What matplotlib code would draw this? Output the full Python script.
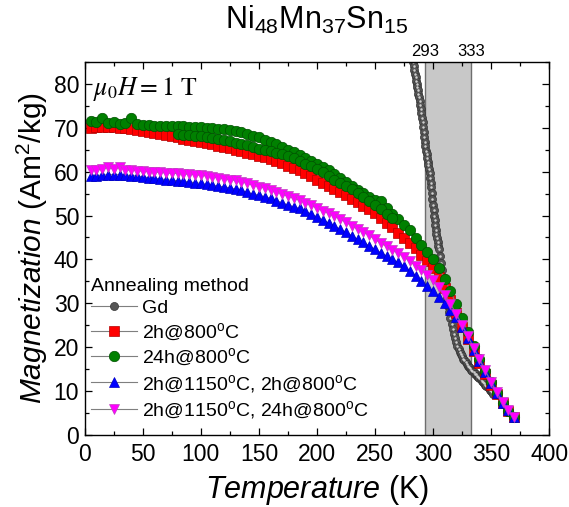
import matplotlib
matplotlib.use("Agg")
import matplotlib.pyplot as plt
from matplotlib.ticker import MultipleLocator

plt.rcParams["font.family"] = ["Liberation Sans", "DejaVu Sans"]
plt.rcParams["mathtext.fontset"] = "custom"
plt.rcParams["mathtext.rm"] = "Liberation Sans"
plt.rcParams["mathtext.it"] = "Liberation Sans:italic"
plt.rcParams["mathtext.bf"] = "Liberation Sans:bold"

# temperature grid of the Heusler samples (K)
T = [5, 10, 15, 20, 25, 30, 35, 40, 45, 50, 55, 60, 65, 70, 75, 80, 85, 90, 95, 100,
     105, 110, 115, 120, 125, 130, 135, 140, 145, 150, 155, 160, 165, 170, 175, 180,
     185, 190, 195, 200, 205, 210, 215, 220, 225, 230, 235, 240, 245, 250, 255, 260,
     265, 270, 275, 280, 285, 290, 295, 300, 305, 310, 315, 320, 325, 330, 335, 340,
     345, 350, 355, 360, 365, 370]

# 2h@800C
m_red = [70.0, 70.1, 70.2, 70.2, 70.1, 70.0, 69.9, 69.7, 69.5, 69.3, 69.1, 68.8, 68.6,
         68.3, 68.0, 67.8, 67.5, 67.3, 67.0, 66.8, 66.5, 66.2, 65.9, 65.6, 65.3, 65.0,
         64.6, 64.3, 63.9, 63.6, 63.3, 62.9, 62.4, 61.9, 61.3, 60.8, 60.3, 59.6, 58.9,
         58.2, 57.5, 56.8, 56.1, 55.4, 54.6, 53.8, 53.0, 52.2, 51.4, 50.5, 49.5, 48.4,
         47.3, 46.1, 44.9, 43.7, 42.5, 41.1, 39.6, 38.0, 35.9, 33.5, 30.7, 27.7, 24.7,
         21.8, 19.1, 16.5, 14.0, 11.5, 9.3, 7.3, 5.5, 4.0]

# 24h@800C (first pass)
m_green = [71.5, 71.2, 72.3, 71.0, 71.2, 70.9, 71.0, 72.2, 70.8, 70.7, 70.6, 70.5, 70.5,
           70.4, 70.4, 70.3, 70.3, 70.2, 70.2, 70.1, 70.0, 69.9, 69.8, 69.6, 69.4, 69.2,
           69.0, 68.6, 68.2, 67.8, 67.3, 66.8, 66.2, 65.6, 65.0, 64.4, 63.7, 63.0, 62.4,
           61.8, 61.1, 60.3, 59.4, 58.6, 57.7, 56.8, 55.9, 55.1, 54.3, 53.6, 53.3, 51.8,
           50.4, 49.2, 47.9, 46.6, 44.8, 43.2, 41.8, 40.2, 38.0, 35.6, 32.8, 29.8, 26.6,
           23.4, 20.3, 17.4, 14.6, 12.0, 9.6, 7.4, 5.5, 4.1]

# 24h@800C (second pass, lower branch)
T_green2 = [80, 85, 90, 95, 100, 105, 110, 115, 120, 125, 130, 135, 140, 145, 150, 155,
            160, 165, 170, 175, 180, 185, 190, 195, 200, 205, 210, 215, 220, 225, 230,
            235, 240, 245, 250, 255, 260, 265]
m_green2 = [68.6, 68.4, 68.3, 68.2, 68.0, 67.8, 67.6, 67.4, 67.2, 66.9, 66.6, 66.3, 66.0,
            65.6, 65.2, 64.9, 64.6, 64.3, 64.0, 63.5, 63.0, 62.4, 61.8, 61.2, 60.6, 59.8,
            59.0, 58.2, 57.5, 56.8, 56.1, 55.2, 54.2, 53.3, 52.5, 51.5, 50.4, 49.4]

# 2h@1150C, 2h@800C
m_blue = [59.0, 59.1, 59.2, 59.3, 59.3, 59.3, 59.2, 59.1, 59.0, 58.8, 58.6, 58.5, 58.3,
          58.2, 58.0, 57.9, 57.8, 57.6, 57.5, 57.3, 57.1, 56.9, 56.7, 56.5, 56.3, 56.0,
          55.7, 55.3, 54.9, 54.6, 54.3, 53.9, 53.4, 52.9, 52.4, 52.0, 51.6, 51.0, 50.3,
          49.7, 49.0, 48.3, 47.6, 46.9, 46.2, 45.4, 44.6, 43.9, 43.1, 42.3, 41.5, 40.8,
          40.0, 39.3, 38.4, 37.4, 36.3, 35.1, 33.9, 32.7, 31.4, 30.0, 28.5, 26.8, 24.6,
          22.0, 19.4, 16.9, 14.4, 11.9, 9.5, 7.4, 5.6, 4.1]

# 2h@1150C, 24h@800C
m_magenta = [60.3, 60.4, 60.5, 61.0, 60.5, 61.0, 60.4, 60.3, 60.2, 60.1, 60.0, 59.9, 59.8,
             59.7, 59.6, 59.6, 59.5, 59.4, 59.3, 59.2, 59.0, 58.8, 58.6, 58.4, 58.2, 58.0,
             57.7, 57.3, 56.9, 56.6, 56.3, 55.9, 55.4, 54.9, 54.4, 53.9, 53.5, 52.9, 52.3,
             51.7, 51.1, 50.5, 49.9, 49.2, 48.5, 47.7, 46.9, 46.3, 45.5, 44.6, 43.7, 43.0,
             42.2, 41.5, 40.6, 39.6, 38.6, 37.6, 36.5, 35.3, 33.8, 32.0, 29.9, 27.6, 25.1,
             22.5, 19.9, 17.3, 14.7, 12.1, 9.7, 7.5, 5.6, 4.0]

# Gd reference
T_gd = [283.0, 283.5, 284.0, 284.5, 285.0, 285.5, 286.0, 286.5, 287.0, 287.5, 288.0,
        288.5, 289.0, 289.5, 290.0, 290.5, 291.0, 291.5, 292.0, 292.5, 293.0, 293.5,
        294.0, 294.5, 295.0, 295.5, 296.0, 296.5, 297.0, 297.5, 298.0, 298.5, 299.0,
        299.5, 300.0, 300.5, 301.0, 301.5, 302.0, 302.5, 303.0, 303.5, 304.0, 304.5,
        305.0, 306, 307, 308, 309, 310, 311, 312, 313, 314, 315, 316, 317, 318, 319, 320,
        321, 322, 323, 324, 325, 326, 327, 328, 329, 330, 331, 332, 333, 334, 335, 336,
        337, 338, 339, 340, 341, 342, 343, 344, 345, 346, 347, 348, 349, 350, 351, 352]
m_gd = [85.0, 84.0, 83.1, 82.3, 81.5, 80.7, 80.0, 79.2, 78.5, 77.7, 76.9, 76.1, 75.2,
        74.3, 73.3, 72.3, 71.2, 70.1, 69.0, 67.9, 66.8, 65.8, 64.8, 63.9, 63.0, 62.2,
        61.4, 60.5, 59.6, 58.6, 57.5, 56.4, 55.2, 53.8, 52.4, 51.2, 50.0, 48.9, 47.8,
        46.8, 45.8, 44.9, 44.0, 43.1, 42.3, 40.7, 39.1, 37.5, 35.9, 34.3, 32.7, 31.1,
        29.5, 28.0, 26.6, 25.3, 24.1, 23.0, 22.0, 21.1, 20.3, 19.6, 18.9, 18.4, 17.9,
        17.4, 17.0, 16.6, 16.2, 15.8, 15.5, 15.2, 14.9, 14.6, 14.3, 14.0, 13.8, 13.5,
        13.3, 13.0, 12.7, 12.4, 12.1, 11.8, 11.5, 11.2, 10.9, 10.6, 10.3, 10.0, 9.7, 9.4]

T_low, T_high = 293, 333

fig = plt.figure(figsize=(5.69, 5.07), dpi=100)
ax = fig.add_axes([0.149, 0.142, 0.816, 0.736])

# shaded working window
ax.axvspan(T_low, T_high, facecolor="#c8c8c8", edgecolor="none", zorder=0)
ax.axvline(T_low, color="#6e6e6e", lw=1.0, zorder=0.5)
ax.axvline(T_high, color="#6e6e6e", lw=1.0, zorder=0.5)

line_kw = dict(color="#7f7f7f", lw=0.8)

ax.plot(T_gd, m_gd, marker="o", ms=5.8, mfc="#555555", mec="#333333", mew=0.5,
        label="Gd", **line_kw)
ax.plot(T_gd, m_gd, ls="none", marker="o", ms=1.8, mfc="#d0d0d0", mec="none")

ax.plot(T, m_red, marker="s", ms=6.5, mfc="#ff0000", mec="#b00000", mew=0.5,
        label="2h@800$^{\\mathrm{o}}$C", **line_kw)
ax.plot(T, m_green, marker="o", ms=7.5, mfc="#008000", mec="#005000", mew=0.5,
        label="24h@800$^{\\mathrm{o}}$C", **line_kw)
ax.plot(T_green2, m_green2, ls="none", marker="o", ms=7.5, mfc="#008000",
        mec="#005000", mew=0.5)
ax.plot(T, m_blue, marker="^", ms=7.5, mfc="#0000ff", mec="#0000c0", mew=0.5,
        label="2h@1150$^{\\mathrm{o}}$C, 2h@800$^{\\mathrm{o}}$C", **line_kw)
ax.plot(T, m_magenta, marker="v", ms=7.5, mfc="#ff00ff", mec="#c040c0", mew=0.5,
        label="2h@1150$^{\\mathrm{o}}$C, 24h@800$^{\\mathrm{o}}$C", **line_kw)

ax.set_xlim(0, 400)
ax.set_ylim(0, 85)
ax.xaxis.set_major_locator(MultipleLocator(50))
ax.xaxis.set_minor_locator(MultipleLocator(25))
ax.yaxis.set_major_locator(MultipleLocator(10))
ax.yaxis.set_minor_locator(MultipleLocator(5))
ax.tick_params(which="both", direction="in", top=True, right=True, width=0.9,
               labelsize=16.5, pad=4)
ax.tick_params(axis="x", which="major", pad=6)
ax.tick_params(which="major", length=5)
ax.tick_params(which="minor", length=3)
for s in ax.spines.values():
    s.set_linewidth(1.0)

ax.set_xlabel("$\\mathit{Temperature}$ (K)", fontsize=22, labelpad=5)
ax.set_ylabel("$\\mathit{Magnetization}$ (Am$^2$/kg)", fontsize=21.5, labelpad=3)
ax.set_title("Ni$_{48}$Mn$_{37}$Sn$_{15}$", fontsize=22, pad=24)

for t in (T_low, T_high):
    ax.text(t, 85.6, str(t), ha="center", va="bottom", fontsize=12)

ax.text(7, 78.8, "$\\mu_{\\mathit{0}}H = 1\\ \\mathrm{T}$", math_fontfamily="stix",
        fontsize=18.5, ha="left", va="center")

leg = ax.legend(loc="lower left", bbox_to_anchor=(0.0, 0.022), frameon=False,
                title="Annealing method", alignment="left", fontsize=14,
                title_fontsize=14, handlelength=2.4, handletextpad=0.26,
                labelspacing=0.22, borderaxespad=0.2, borderpad=0.1)

fig.savefig("out.png", dpi=100)
